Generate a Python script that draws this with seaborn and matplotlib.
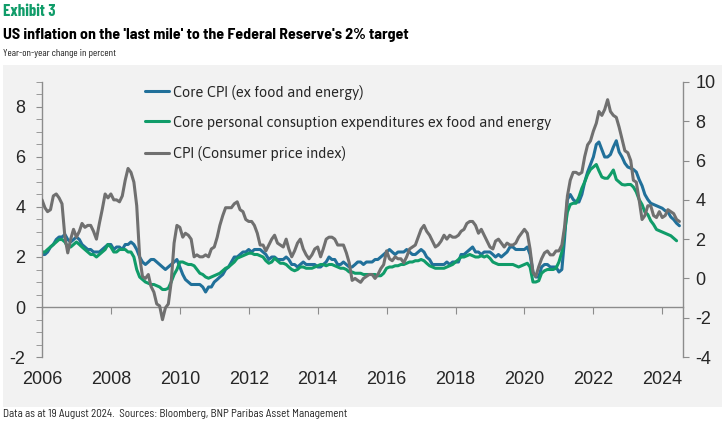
import matplotlib
matplotlib.use("Agg")
import matplotlib.pyplot as plt
import matplotlib.dates as mdates
from matplotlib.patches import Rectangle
from matplotlib.lines import Line2D
import seaborn as sns
import pandas as pd

# monthly year-on-year changes, Jan 2006 onwards
cpi = [
    4.0, 3.6, 3.4, 3.5, 4.2, 4.3, 4.1, 3.8, 2.1, 1.3, 2.0, 2.5,
    2.1, 2.4, 2.8, 2.6, 2.7, 2.7, 2.4, 2.0, 2.8, 3.5, 4.3, 4.1,
    4.3, 4.0, 4.0, 3.9, 4.2, 5.0, 5.6, 5.4, 4.9, 3.7, 1.1, 0.1,
    0.0, 0.2, -0.4, -0.7, -1.3, -1.4, -2.1, -1.5, -1.3, -0.2, 1.8, 2.7,
    2.6, 2.1, 2.3, 2.2, 2.0, 1.1, 1.2, 1.1, 1.1, 1.2, 1.1, 1.5,
    1.6, 2.1, 2.7, 3.2, 3.6, 3.6, 3.6, 3.8, 3.9, 3.5, 3.4, 3.0,
    2.9, 2.9, 2.7, 2.3, 1.7, 1.7, 1.4, 1.7, 2.0, 2.2, 1.8, 1.7,
    1.6, 2.0, 1.5, 1.1, 1.4, 1.8, 2.0, 1.5, 1.2, 1.0, 1.2, 1.5,
    1.6, 1.1, 1.5, 2.0, 2.1, 2.1, 2.0, 1.7, 1.7, 1.7, 1.3, 0.8,
    -0.1, 0.0, -0.1, -0.2, 0.0, 0.1, 0.2, 0.2, 0.0, 0.2, 0.5, 0.7,
    1.4, 1.0, 0.9, 1.1, 1.0, 1.0, 0.8, 1.1, 1.5, 1.6, 1.7, 2.1,
    2.5, 2.7, 2.4, 2.2, 1.9, 1.6, 1.7, 1.9, 2.2, 2.0, 2.2, 2.1,
    2.1, 2.2, 2.4, 2.5, 2.8, 2.9, 2.9, 2.7, 2.3, 2.5, 2.2, 1.9,
    1.6, 1.5, 1.9, 2.0, 1.8, 1.6, 1.8, 1.7, 1.7, 1.8, 2.1, 2.3,
    2.5, 2.3, 1.5, 0.3, 0.1, 0.6, 1.0, 1.3, 1.4, 1.2, 1.2, 1.4,
    1.4, 1.7, 2.6, 4.2, 5.0, 5.4, 5.4, 5.3, 5.4, 6.2, 6.8, 7.0,
    7.5, 7.9, 8.5, 8.3, 8.6, 9.1, 8.5, 8.3, 8.2, 7.7, 7.1, 6.5,
    6.4, 6.0, 5.0, 4.9, 4.0, 3.0, 3.2, 3.7, 3.7, 3.2, 3.1, 3.4,
    3.1, 3.2, 3.5, 3.4, 3.3, 3.0, 2.9,
]

core_cpi = [
    2.1, 2.1, 2.2, 2.4, 2.5, 2.7, 2.8, 2.8, 2.9, 2.7, 2.6, 2.7,
    2.8, 2.7, 2.5, 2.4, 2.3, 2.3, 2.2, 2.2, 2.2, 2.3, 2.4, 2.5,
    2.5, 2.3, 2.4, 2.4, 2.3, 2.5, 2.5, 2.6, 2.5, 2.3, 2.0, 1.8,
    1.7, 1.8, 1.9, 1.9, 1.8, 1.7, 1.6, 1.5, 1.6, 1.7, 1.8, 1.9,
    1.6, 1.3, 1.1, 1.0, 0.9, 0.9, 0.9, 0.9, 0.8, 0.6, 0.8, 0.8,
    1.0, 1.1, 1.2, 1.3, 1.5, 1.6, 1.8, 2.0, 2.0, 2.1, 2.2, 2.2,
    2.3, 2.2, 2.3, 2.3, 2.3, 2.2, 2.1, 1.9, 2.0, 2.0, 1.9, 1.9,
    1.9, 2.0, 1.9, 1.7, 1.7, 1.6, 1.7, 1.8, 1.7, 1.7, 1.7, 1.7,
    1.6, 1.6, 1.7, 1.8, 2.0, 1.9, 1.9, 1.7, 1.7, 1.8, 1.7, 1.6,
    1.6, 1.7, 1.8, 1.8, 1.7, 1.8, 1.8, 1.8, 1.9, 1.9, 2.0, 2.1,
    2.2, 2.3, 2.2, 2.1, 2.2, 2.2, 2.2, 2.3, 2.2, 2.1, 2.1, 2.2,
    2.3, 2.2, 2.0, 1.9, 1.7, 1.7, 1.7, 1.7, 1.7, 1.8, 1.7, 1.8,
    1.8, 1.8, 2.1, 2.1, 2.2, 2.3, 2.4, 2.2, 2.2, 2.1, 2.2, 2.2,
    2.2, 2.1, 2.0, 2.1, 2.0, 2.1, 2.2, 2.4, 2.4, 2.3, 2.3, 2.3,
    2.3, 2.4, 2.1, 1.4, 1.2, 1.2, 1.6, 1.7, 1.7, 1.6, 1.6, 1.6,
    1.4, 1.5, 2.7, 4.3, 4.5, 4.3, 4.2, 4.2, 4.5, 5.0, 5.4, 5.7,
    6.0, 6.5, 6.6, 6.3, 6.0, 6.0, 6.1, 6.4, 6.65, 6.2, 6.0, 5.75,
    5.6, 5.55, 5.5, 5.4, 5.1, 4.85, 4.5, 4.3, 4.15, 4.1, 4.05, 4.0,
    3.95, 3.85, 3.8, 3.6, 3.5, 3.35, 3.25,
]

core_pce = [
    2.2, 2.2, 2.3, 2.4, 2.5, 2.6, 2.7, 2.7, 2.6, 2.4, 2.4, 2.5,
    2.6, 2.5, 2.4, 2.3, 2.2, 2.1, 2.1, 2.0, 2.1, 2.2, 2.3, 2.5,
    2.4, 2.2, 2.2, 2.3, 2.3, 2.3, 2.2, 2.2, 2.0, 1.5, 1.2, 1.1,
    1.0, 0.95, 0.9, 0.9, 0.85, 0.8, 0.7, 0.7, 0.75, 1.0, 1.3, 1.5,
    1.8, 1.8, 1.75, 1.7, 1.7, 1.65, 1.5, 1.35, 1.3, 1.2, 1.15, 1.2,
    1.25, 1.3, 1.35, 1.45, 1.55, 1.6, 1.7, 1.8, 1.95, 2.0, 2.05, 2.1,
    2.15, 2.15, 2.1, 2.1, 2.05, 2.0, 1.85, 1.75, 1.8, 1.95, 1.85, 1.75,
    1.75, 1.7, 1.6, 1.5, 1.45, 1.5, 1.6, 1.6, 1.55, 1.55, 1.55, 1.6,
    1.65, 1.7, 1.7, 1.65, 1.7, 1.7, 1.65, 1.6, 1.55, 1.55, 1.5, 1.4,
    1.4, 1.35, 1.35, 1.35, 1.3, 1.3, 1.3, 1.3, 1.3, 1.25, 1.25, 1.35,
    1.55, 1.6, 1.6, 1.65, 1.65, 1.7, 1.7, 1.75, 1.8, 1.8, 1.85, 1.85,
    1.9, 1.85, 1.75, 1.65, 1.6, 1.55, 1.55, 1.55, 1.55, 1.6, 1.65, 1.7,
    1.8, 1.9, 2.0, 2.0, 2.05, 2.1, 2.05, 2.0, 2.0, 2.05, 2.0, 2.05,
    1.95, 1.8, 1.75, 1.7, 1.7, 1.7, 1.7, 1.7, 1.7, 1.65, 1.6, 1.65,
    1.7, 1.75, 1.6, 1.0, 1.0, 1.05, 1.35, 1.45, 1.5, 1.5, 1.5, 1.55,
    1.8, 2.2, 3.0, 3.8, 4.1, 4.15, 4.15, 4.4, 4.75, 5.0, 5.3, 5.5,
    5.6, 5.7, 5.45, 5.2, 5.15, 5.15, 5.3, 5.48, 5.1, 5.0, 4.9, 4.88,
    4.9, 4.9, 4.8, 4.6, 4.3, 4.1, 3.8, 3.7, 3.45, 3.3, 3.1, 3.05,
    3.0, 2.95, 2.9, 2.85, 2.75, 2.65,
]

labels = [
    "Core CPI (ex food and energy)",
    "Core personal consuption expenditures ex food and energy",
    "CPI (Consumer price index)",
]
colors = ["#21709a", "#109c69", "#707070"]

dates_cpi = pd.date_range("2006-01-01", periods=len(cpi), freq="MS")
dates_pce = pd.date_range("2006-01-01", periods=len(core_pce), freq="MS")

sns.set_style("white")
plt.rcParams["font.family"] = ["Liberation Sans", "DejaVu Sans"]
plt.rcParams["axes.unicode_minus"] = False
semi = ["Barlow Semi Condensed", "Liberation Sans", "DejaVu Sans"]
cond = ["Barlow Condensed", "Barlow Semi Condensed", "Liberation Sans", "DejaVu Sans"]
legend_font = ["Asap", "Liberation Sans", "DejaVu Sans"]

fig = plt.figure(figsize=(7.25, 4.24), dpi=100)
fig.patch.set_facecolor("white")
fig.patches.append(Rectangle((3 / 725, 1 - 407 / 424), 719 / 725, 342 / 424,
                             transform=fig.transFigure, facecolor="#f2f2f2",
                             edgecolor="none", zorder=-10))

ax = fig.add_axes([42 / 725, 1 - 357 / 424, 641 / 725, 275 / 424])
ax.set_facecolor("none")
ax2 = ax.twinx()
ax2.set_facecolor("none")

lw = 2.2
sns.lineplot(x=dates_cpi, y=core_cpi, ax=ax, color=colors[0], linewidth=lw, legend=False)
sns.lineplot(x=dates_pce, y=core_pce, ax=ax, color=colors[1], linewidth=lw, legend=False)
sns.lineplot(x=dates_cpi, y=cpi, ax=ax2, color=colors[2], linewidth=lw, legend=False)

ax.set_ylim(-2, 9)
ax2.set_ylim(-4, 10)
ax.set_xlim(pd.Timestamp("2006-01-01"), pd.Timestamp("2024-08-08"))

ax.set_yticks([-2, 0, 2, 4, 6, 8])
ax.set_yticks([v / 2 for v in range(-4, 19)], minor=True)
ax2.set_yticks([-4, -2, 0, 2, 4, 6, 8, 10])

ax.xaxis.set_major_locator(mdates.YearLocator(2))
ax.xaxis.set_major_formatter(mdates.DateFormatter("%Y"))

spine_col = "#8c8c8c"
for a in (ax, ax2):
    a.spines["top"].set_visible(False)
    for s in ("left", "right", "bottom"):
        a.spines[s].set_color(spine_col)
        a.spines[s].set_linewidth(1.0)
ax.spines["right"].set_visible(False)
ax2.spines["left"].set_visible(False)
ax2.spines["bottom"].set_visible(False)
ax.spines["bottom"].set_position(("data", 0))

ax.tick_params(axis="y", which="both", direction="out", length=4, color=spine_col,
               labelsize=13, pad=8, left=True)
ax2.tick_params(axis="y", direction="out", length=4, color=spine_col,
                labelsize=13, pad=5, right=True)
ax.tick_params(axis="x", direction="out", length=5, color=spine_col,
               labelsize=13, pad=41, bottom=True)
ax.set_xlabel("")
ax.set_ylabel("")
ax2.set_ylabel("")

handles = [Line2D([], [], color=c, linewidth=lw) for c in colors]
ax.legend(handles, labels, loc="upper left", bbox_to_anchor=(0.152, 1.012),
          frameon=False, prop={"family": legend_font, "size": 10.5},
          handlelength=1.65, handletextpad=0.25, labelspacing=1.1, borderaxespad=0)

fig.text(3 / 725, 1 - 12 / 424, "Exhibit 3", fontsize=12, fontweight="bold",
         color="#109c69", va="center", ha="left", family=cond)
fig.text(3 / 725, 1 - 35 / 424,
         "US inflation on the 'last mile' to the Federal Reserve's 2% target",
         fontsize=11.5, fontweight="bold", color="black", va="center", ha="left",
         family=semi)
fig.text(3 / 725, 1 - 53 / 424, "Year-on-year change in percent", fontsize=7.5,
         color="#222222", va="center", ha="left", family=cond)
fig.text(3 / 725, 1 - 414 / 424,
         "Data as at 19 August 2024.  Sources: Bloomberg, BNP Paribas Asset Management",
         fontsize=8, color="#222222", va="center", ha="left", family=semi)

fig.savefig("out.png", dpi=100)
